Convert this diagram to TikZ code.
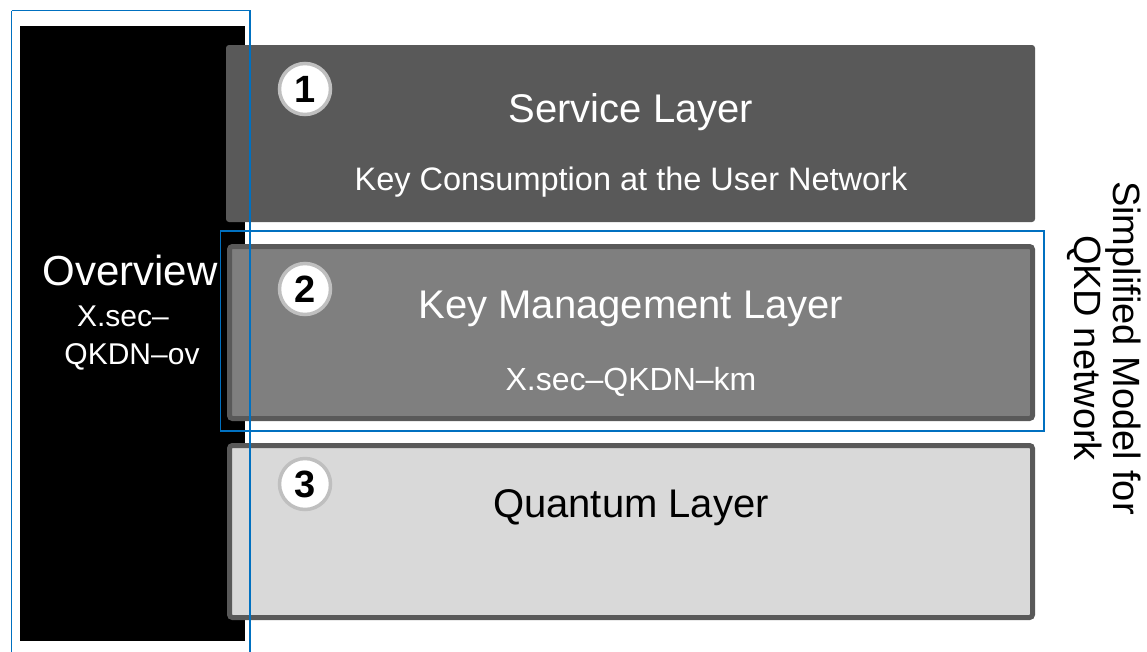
\documentclass[tikz,border=0pt]{standalone}
\usepackage{fontspec}
\setmainfont{Liberation Sans}
\definecolor{svc}{HTML}{595959}
\definecolor{kmfill}{HTML}{7F7F7F}
\definecolor{qfill}{HTML}{D9D9D9}
\definecolor{bord}{HTML}{595959}
\definecolor{ring}{HTML}{BFBFBF}
\definecolor{blueline}{HTML}{0070C0}
\begin{document}
\begin{tikzpicture}[x=1pt,y=-1pt,
  layerbox/.style={rounded corners=3pt},
  numcircle/.style={circle,fill=white,draw=ring,line width=3.5pt,minimum size=51pt,inner sep=0pt,font=\bfseries\fontsize{38}{38}\selectfont},
  titletext/.style={anchor=base,inner sep=0pt,font=\fontsize{40}{44}\selectfont},
  subtext/.style={anchor=base,inner sep=0pt},
  sidetext/.style={anchor=base,inner sep=0pt,text=white},
  bluebox/.style={draw=blueline,line width=1.3pt}]
\useasboundingbox (0,0) rectangle (1147,651);
% black side bar
\fill[black] (20,26) rectangle (245,641);
% service layer
\fill[svc,layerbox] (226,45) rectangle (1035,222);
% key management layer
\draw[layerbox,fill=kmfill,draw=bord,line width=5pt] (229.5,246.5) rectangle (1032.5,418.5);
% quantum layer
\draw[layerbox,fill=qfill,draw=bord,line width=5pt] (229.5,445.5) rectangle (1032.5,617.5);
% numbered circles
\node[numcircle] (c1) at (305,89) {1};
\node[numcircle] (c2) at (305,289) {2};
\node[numcircle] (c3) at (305,484) {3};
% titles
\node[titletext,text=white] (t1) at (631,122) {Service Layer};
\node[subtext,text=white,font=\fontsize{32.5}{35}\selectfont] (s1) at (631,190) {Key Consumption at the User Network};
\node[titletext,text=white] (t2) at (631,318) {Key Management Layer};
\node[subtext,text=white,font=\fontsize{32}{35}\selectfont] (s2) at (631,390) {X.sec–QKDN–km};
\node[titletext,text=black] (t3) at (631,517) {Quantum Layer};
% side labels
\node[sidetext,font=\fontsize{42}{46}\selectfont] (ov) at (130,285) {Overview};
\node[sidetext,font=\fontsize{30}{34}\selectfont] (ov1) at (123,326) {X.sec–};
\node[sidetext,font=\fontsize{30}{34}\selectfont] (ov2) at (132,364) {QKDN–ov};
% rotated label
\node[rotate=-90,align=center,inner sep=0pt,font=\fontsize{38}{39}\selectfont] (model) at (1104,348) {Simplified Model for\\QKD network};
% blue frames
\draw[bluebox] (11.5,10.5) -- (250,10.5) -- (250,660);
\draw[bluebox] (11.5,10.5) -- (11.5,660);
\draw[bluebox] (220.5,231) rectangle (1044,431);
\end{tikzpicture}
\end{document}
